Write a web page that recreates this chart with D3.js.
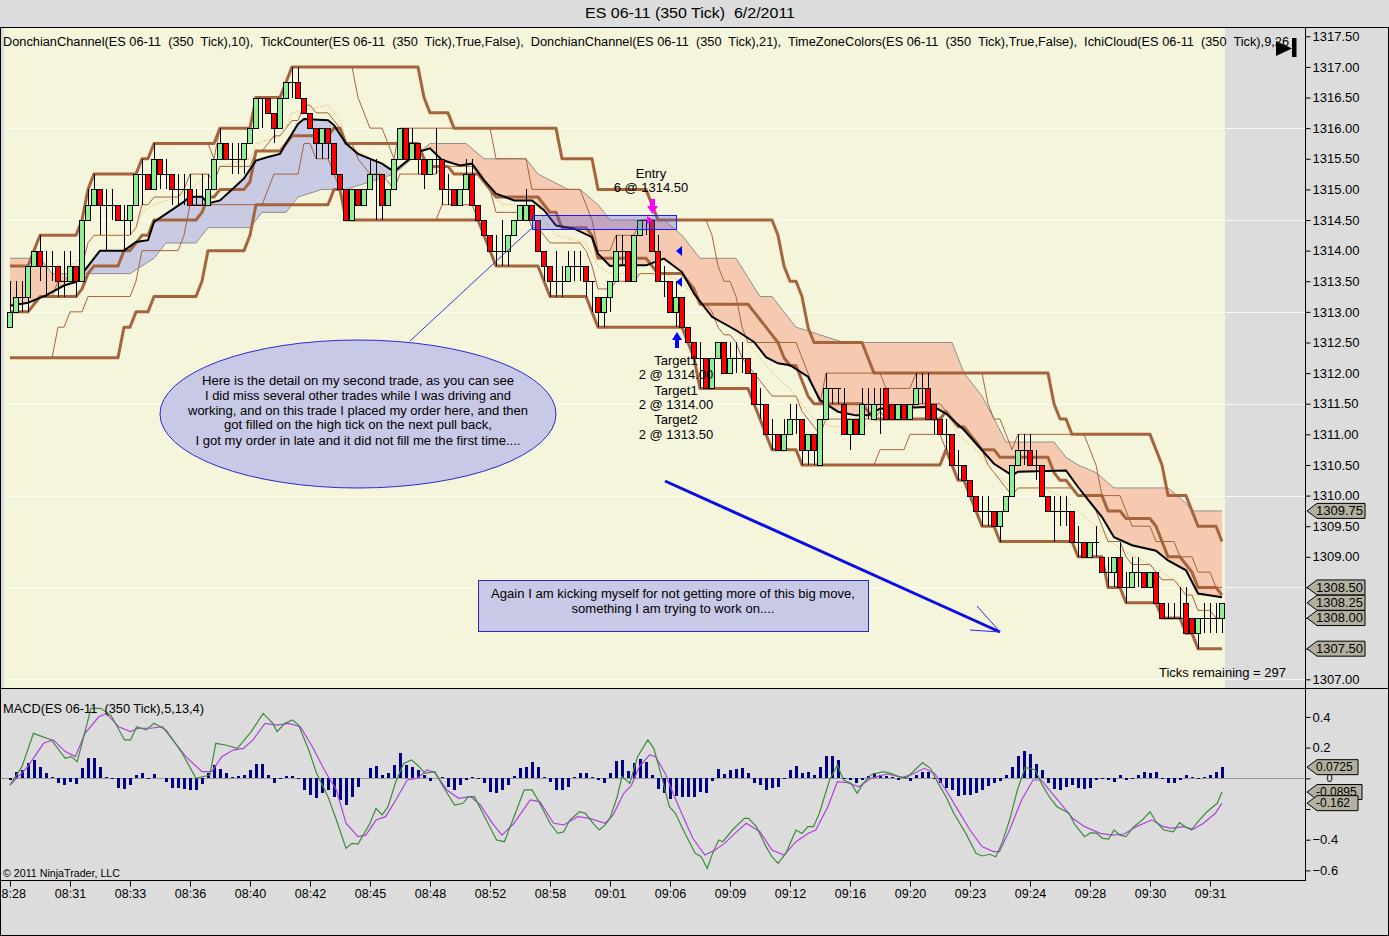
<!DOCTYPE html>
<html><head><meta charset="utf-8"><title>ES 06-11 (350 Tick) 6/2/2011</title>
<script src="https://cdn.jsdelivr.net/npm/d3@7/dist/d3.min.js"></script>
<style>
html,body{margin:0;padding:0;background:#dcdcdc;}
svg{display:block;font-family:"Liberation Sans",Arial,sans-serif;}
text{white-space:pre;}
</style></head><body>
<svg id="chart" width="1389" height="936"></svg>
<script>
// ---------------- DATA ----------------
const opens = [
1312.75,1313,1313.25,1313.25,1313.75,1314,1313.75,1313.75,1313.75,1313.5,
1313.5,1313.75,1313.5,1314.5,1314.75,1315,1314.75,1314.75,1314.75,1314.5,
1314.5,1314.75,1315.25,1315.25,1315,1315.5,1315.25,1315.25,1315,1315,
1315,1314.75,1314.75,1314.75,1315,1315.5,1315.75,1315.5,1315.5,1315.5,
1315.75,1316,1316.5,1316.5,1316.25,1316,1316.5,1316.75,1316.75,1316.5,
1316.25,1316,1315.75,1316,1315.75,1315.25,1315,1314.5,1315,1314.75,
1315,1315.25,1315.25,1314.75,1315,1315.5,1316,1315.5,1315.75,1315.5,
1315.25,1315.5,1315.5,1315,1315,1314.75,1315,1315.25,1314.75,1314.5,
1314.25,1314,1314,1314,1314.25,1314.5,1314.5,1314.75,1314.5,1314,
1313.75,1313.5,1313.5,1313.5,1313.75,1313.75,1313.75,1313.5,1313.25,1313,
1313.25,1313.5,1314,1314,1313.5,1314.25,1314.5,1314.5,1314,1313.5,
1313.5,1313,1313.25,1312.75,1312.5,1312.25,1312.25,1311.75,1312.25,1312.5,
1312,1312.25,1312.25,1312.25,1312,1311.5,1311.5,1311,1311,1310.75,
1311,1311.25,1311.25,1310.75,1311,1310.5,1311.25,1311.75,1311.75,1311.5,
1311,1311.25,1311,1311.5,1311.25,1311.5,1311.75,1311.5,1311.25,1311.5,
1311.25,1311.5,1311.75,1311.75,1311.5,1311.25,1311,1311,1310.5,1310.5,
1310.25,1310,1309.75,1309.75,1309.75,1309.5,1309.75,1310,1310.5,1310.75,
1310.75,1310.5,1310.5,1310,1309.75,1309.75,1309.75,1309.75,1309.25,1309.25,
1309,1309.25,1309,1308.75,1308.75,1309,1308.5,1308.5,1308.75,1308.75,
1308.5,1308.75,1308.25,1308,1308,1308,1308.25,1308,1307.75,1308,
1308,1308,1308];
const closes = [
1313,1313.25,1313.25,1313.75,1314,1313.75,1313.75,1313.75,1313.5,1313.5,
1313.75,1313.5,1314.5,1314.75,1315,1314.75,1314.75,1314.75,1314.5,1314.5,
1314.75,1315.25,1315.25,1315,1315.5,1315.25,1315.25,1315,1315,1315,
1314.75,1314.75,1314.75,1315,1315.5,1315.75,1315.5,1315.5,1315.5,1315.75,
1316,1316.5,1316.5,1316.25,1316,1316.5,1316.75,1316.75,1316.5,1316.25,
1316,1315.75,1316,1315.75,1315.25,1315,1314.5,1315,1314.75,1315,
1315.25,1315.25,1314.75,1315,1315.5,1316,1315.5,1315.75,1315.5,1315.25,
1315.5,1315.5,1315,1315,1314.75,1315,1315.25,1314.75,1314.5,1314.25,
1314,1314,1314,1314.25,1314.5,1314.75,1314.75,1314.5,1314,1313.75,
1313.5,1313.5,1313.5,1313.75,1313.75,1313.75,1313.5,1313.5,1313,1313.25,
1313.5,1314,1314,1313.5,1314.25,1314.5,1314.5,1314,1313.5,1313.5,
1313,1313.25,1312.75,1312.5,1312.25,1312.25,1311.75,1312.25,1312.5,1312,
1312.25,1312.25,1312.25,1312,1311.5,1311.5,1311,1311,1310.75,1311,
1311.25,1311.25,1310.75,1311,1310.75,1311.25,1311.75,1311.75,1311.75,1311,
1311.25,1311,1311.5,1311.5,1311.5,1311.5,1311.25,1311.25,1311.5,1311.25,
1311.5,1311.75,1311.75,1311.25,1311.25,1311,1311,1310.5,1310.5,1310.25,
1310,1309.75,1309.75,1309.75,1309.5,1309.75,1310,1310.5,1310.75,1310.75,
1310.5,1310.5,1310,1309.75,1309.75,1309.75,1309.75,1309.25,1309.25,1309,
1309.25,1309.25,1308.75,1308.75,1309,1308.5,1308.5,1308.75,1308.75,1308.5,
1308.75,1308.25,1308,1308,1308,1308,1307.75,1307.75,1308,1308,
1308,1308,1308.25];
const highs = [
1313.5,1313.5,1313.5,1313.75,1314,1314.25,1314,1314,1313.75,1314,
1314,1313.75,1314.5,1315,1315.25,1315,1315,1315,1314.75,1314.75,
1314.75,1315.25,1315.5,1315.25,1315.75,1315.5,1315.5,1315.25,1315.25,1315.25,
1315.25,1315,1315.25,1315.25,1315.5,1316,1315.75,1315.75,1315.75,1315.75,
1316,1316.5,1316.5,1316.5,1316.25,1316.5,1316.75,1317,1317,1316.5,
1316.25,1316,1316,1316,1315.75,1315.25,1315,1315,1315,1315,
1315.5,1315.5,1315.25,1315,1315.5,1316,1316,1316,1315.75,1315.5,
1315.5,1316,1315.5,1315.25,1315,1315,1315.5,1315.5,1314.75,1314.5,
1314.25,1314.25,1314.5,1314.25,1314.5,1314.75,1315,1314.75,1314.5,1314,
1313.75,1314,1313.75,1314,1314,1314,1313.75,1313.5,1313.25,1313.25,
1313.5,1314.25,1314.25,1314,1314.25,1314.5,1314.5,1314.5,1314.25,1313.75,
1313.5,1313.5,1313.25,1312.75,1312.5,1312.5,1312.25,1312.25,1312.5,1312.5,
1312.5,1312.5,1312.5,1312.25,1312,1311.75,1311.5,1311.25,1311,1311.25,
1311.5,1311.5,1311.25,1311,1311,1311.25,1312,1311.75,1311.75,1311.75,
1311.25,1311.25,1311.75,1311.75,1311.75,1311.75,1311.75,1311.5,1311.5,1311.5,
1311.5,1312,1312,1312,1311.5,1311.25,1311.25,1311,1310.75,1310.5,
1310.25,1310,1310,1310,1309.75,1309.75,1310,1310.5,1311,1311,
1311,1310.75,1310.5,1310,1310,1310,1310,1309.75,1309.5,1309.25,
1309.25,1309.5,1309,1309,1309,1309.25,1308.75,1309,1309,1308.75,
1308.75,1308.75,1308.25,1308.25,1308.25,1308.5,1308.5,1308,1308,1308.25,
1308.25,1308.25,1308.25];
const lows = [
1312.75,1313,1313,1313,1313.75,1313.5,1313.25,1313.5,1313.25,1313.25,
1313.5,1313.25,1313.5,1314.5,1314.75,1314.25,1314,1314.5,1314.5,1314,
1314.25,1314.75,1314.75,1315,1315,1315,1315,1314.75,1314.75,1314.75,
1314.75,1314.75,1314.75,1314.75,1315,1315.5,1315.5,1315.25,1315.25,1315.25,
1315.75,1316,1316,1316.25,1315.75,1316,1316.5,1316.5,1316.5,1316.25,
1316,1315.5,1315.5,1315.5,1315.25,1315,1314.5,1314.5,1314.75,1314.75,
1315,1314.5,1314.5,1314.75,1315,1315.5,1315.5,1315.5,1315.25,1315,
1315.25,1315.25,1314.75,1314.75,1314.75,1314.75,1315,1314.75,1314.5,1314.25,
1314,1313.75,1313.75,1313.75,1314.25,1314.5,1314.5,1314.5,1314,1313.5,
1313.25,1313.25,1313.25,1313.5,1313.5,1313.5,1313.25,1313,1312.75,1312.75,
1313,1313.5,1313.75,1313.5,1313.5,1314.25,1314.25,1314,1313.5,1313.25,
1313,1312.75,1312.75,1312.5,1312.25,1311.75,1311.75,1311.75,1312.25,1312,
1312,1312,1312,1312,1311.5,1311.25,1311,1310.75,1310.75,1310.75,
1311,1311,1310.5,1310.5,1310.5,1310.5,1311.25,1311.5,1311.5,1311,
1310.75,1311,1311,1311.25,1311.25,1311,1311.25,1311.25,1311.25,1311.25,
1311.25,1311.5,1311.5,1311.25,1311,1311,1310.75,1310.5,1310.25,1310.25,
1310,1309.75,1309.5,1309.5,1309.5,1309.25,1309.75,1310,1310.5,1310.5,
1310.5,1310.25,1310,1309.75,1309.25,1309.5,1309.5,1309.25,1309,1309,
1309,1309,1308.75,1308.5,1308.5,1308.5,1308.25,1308.5,1308.5,1308.5,
1308.5,1308.25,1308,1308,1308,1308,1307.75,1307.75,1307.5,1307.75,
1307.75,1307.75,1307.75];

// Donchian channels: [barIndex, value from that bar on]
const don21Hi = [[0,1313.75],[4,1314],[5,1314.25],[12,1314.5],[13,1315],[14,1315.25],[22,1315.5],[24,1315.75],[35,1316],[41,1316.5],[46,1316.75],[47,1317],[69,1316.5],[70,1316.25],[74,1316],[92,1315.5],[98,1315],[107,1314.75],[108,1314.5],[128,1314.25],[129,1313.75],[130,1313.5],[132,1313.25],[133,1312.75],[134,1312.5],[143,1312.25],[144,1312],[174,1311.5],[175,1311.25],[177,1311],[191,1310.75],[192,1310.5],[193,1310],[197,1309.75],[198,1309.5],[202,1309.25]];
const don21Lo = [[0,1312.25],[19,1312.75],[21,1313],[24,1313.25],[32,1313.5],[33,1314],[40,1314.25],[41,1314.75],[54,1315],[56,1314.5],[79,1314.25],[80,1314],[81,1313.75],[89,1313.5],[90,1313.25],[97,1313],[98,1312.75],[113,1312.5],[114,1312.25],[115,1311.75],[124,1311.5],[125,1311.25],[126,1311],[127,1310.75],[132,1310.5],[156,1310.75],[157,1310.5],[158,1310.25],[160,1310],[161,1309.75],[162,1309.5],[165,1309.25],[178,1309],[183,1308.5],[186,1308.25],[192,1308],[196,1307.75],[198,1307.5]];
const don10Hi = [[0,1313.75],[4,1314],[5,1314.25],[12,1314.5],[13,1315],[14,1315.25],[22,1315.5],[24,1315.75],[34,1315.5],[35,1316],[41,1316.5],[46,1316.75],[47,1317],[58,1316.5],[59,1316.25],[60,1316],[63,1315.75],[64,1315.5],[65,1316],[81,1315.5],[87,1315],[96,1314.75],[97,1314.5],[98,1314],[101,1314.25],[105,1314.5],[117,1314.25],[118,1313.75],[119,1313.5],[121,1313.25],[122,1312.75],[123,1312.5],[132,1312.25],[133,1312],[134,1311.75],[135,1311.5],[136,1312],[146,1311.75],[151,1312],[163,1311.5],[164,1311.25],[166,1311],[167,1310.75],[168,1311],[180,1310.75],[181,1310.5],[182,1310],[186,1309.75],[187,1309.5],[191,1309.25],[195,1309],[198,1308.75],[201,1308.5]];
const don10Lo = [[0,1312.25],[8,1312.75],[10,1313],[13,1313.25],[21,1313.5],[22,1314],[29,1314.25],[30,1314.75],[43,1315],[44,1315.25],[49,1315.75],[51,1315.5],[54,1315.25],[55,1315],[56,1314.5],[72,1314.75],[78,1314.5],[79,1314.25],[80,1314],[81,1313.75],[89,1313.5],[90,1313.25],[97,1313],[98,1312.75],[113,1312.5],[114,1312.25],[115,1311.75],[124,1311.5],[125,1311.25],[126,1311],[127,1310.75],[132,1310.5],[145,1310.75],[150,1311],[156,1310.75],[157,1310.5],[158,1310.25],[160,1310],[161,1309.75],[162,1309.5],[165,1309.25],[178,1309],[183,1308.5],[186,1308.25],[192,1308],[196,1307.75],[198,1307.5]];

// Ichimoku cloud edges (key points): black line and grey line
const spanA = [[0,1313.1],[3,1313.15],[6,1313.27],[9,1313.43],[11,1313.49],[12,1313.62],[15,1314],[19,1314],[21,1314.14],[23,1314.17],[24,1314.47],[26,1314.6],[29,1314.8],[30,1314.88],[32,1314.88],[33,1314.77],[35,1314.82],[37,1315],[39,1315.18],[41,1315.47],[43,1315.53],[45,1315.58],[46,1315.75],[48,1316.07],[49,1316.15],[53,1316.13],[54,1316.05],[56,1315.75],[58,1315.58],[62,1315.42],[64,1315.29],[68,1315.61],[70,1315.67],[72,1315.48],[75,1315.39],[77,1315.42],[79,1315.15],[81,1314.93],[84,1314.82],[87,1314.82],[89,1314.66],[91,1314.41],[94,1314.36],[97,1314.22],[98,1313.95],[100,1313.75],[102,1313.76],[106,1313.76],[109,1313.87],[112,1313.65],[114,1313.3],[117,1312.92],[121,1312.7],[124,1312.51],[126,1312.26],[128,1312.16],[130,1312.13],[133,1311.94],[135,1311.56],[138,1311.37],[141,1311.31],[143,1311.31],[145,1311.42],[154,1311.45],[156,1311.34],[159,1311.07],[162,1310.74],[164,1310.52],[167,1310.33],[168,1310.39],[176,1310.41],[178,1310.14],[182,1309.65],[184,1309.32],[187,1309.19],[191,1309.1],[193,1308.94],[196,1308.78],[198,1308.4],[202,1308.34]];
const spanB = [[0,1313.875],[5,1313.875],[7,1313.625],[20,1313.625],[22,1313.75],[24,1313.875],[26,1314.125],[31,1314.125],[33,1314.375],[40,1314.375],[42,1314.625],[46,1314.625],[48,1314.875],[52,1315],[56,1315],[60,1315.125],[64,1315.25],[67,1315.5],[70,1315.75],[76,1315.75],[79,1315.5],[86,1315.5],[88,1315.25],[93,1315],[95,1315],[98,1314.75],[100,1314.5],[109,1314.5],[112,1314.25],[115,1313.875],[121,1313.875],[125,1313.25],[127,1313.25],[131,1312.75],[135,1312.625],[139,1312.5],[157,1312.5],[159,1312],[162,1311.625],[166,1310.875],[174,1310.875],[176,1310.625],[178,1310.5],[181,1310.375],[184,1310.125],[193,1310.125],[196,1309.875],[197,1309.75],[202,1309.75]];
const tenkan = [[8,1313.625],[12,1313.875],[13,1314.125],[14,1314.25],[20,1314.25],[21,1314.375],[22,1314.625],[24,1314.75],[28,1314.875],[30,1315],[33,1315.25],[35,1315.375],[40,1315.5],[41,1315.75],[45,1315.875],[46,1316],[47,1316.25],[53,1316.375],[55,1316.125],[56,1315.75],[58,1315.625],[60,1315.5],[63,1315.25],[68,1315.25],[72,1315.375],[78,1315.375],[80,1315],[82,1314.75],[88,1314.75],[89,1314.5],[91,1314.25],[96,1314.125],[98,1313.75],[100,1313.625],[109,1313.625],[112,1313.5],[114,1313.25],[116,1313],[120,1312.75],[124,1312.375],[127,1312],[130,1311.75],[134,1311.25],[137,1311.125],[142,1311.125],[146,1311.375],[152,1311.5],[156,1311.375],[158,1311],[161,1310.75],[164,1310.375],[167,1310.125],[172,1310.125],[175,1310],[178,1309.75],[181,1309.5],[185,1309.125],[190,1308.875],[194,1308.625],[197,1308.375],[202,1308.375]];

// MACD(5,13,4)
const macdLine = [[0,-0.044],[2,0.076],[3.9,0.293],[6.9,0.25],[9.2,0.13],[10.2,0.141],[11.2,0.108],[13.5,0.456],[15.1,0.456],[16.8,0.412],[19.1,0.25],[20.1,0.25],[21.1,0.336],[22.7,0.315],[24,0.358],[26,0.315],[28.7,0.163],[31,0],[33.3,0.021],[34.3,0.228],[35.9,0.217],[37.9,0.195],[40.2,0.304],[42.2,0.423],[43.8,0.358],[44.5,0.304],[45.8,0.358],[47.1,0.38],[48.1,0.347],[49.8,0.184],[51.1,0.032],[53,-0.12],[54.4,-0.272],[56,-0.456],[57,-0.424],[58,-0.428],[60,-0.293],[61,-0.196],[62,-0.239],[63,-0.185],[64.3,-0.022],[65.6,0.097],[66.9,0.119],[67.9,0.087],[69.2,0.032],[70.8,0.043],[72.2,-0.055],[74.1,-0.174],[75.5,-0.163],[76.4,-0.12],[77.4,-0.12],[79.1,-0.25],[81.1,-0.402],[82.4,-0.413],[84,-0.25],[85.7,-0.076],[87,-0.076],[88,-0.141],[90,-0.293],[91.3,-0.358],[92.3,-0.348],[93.3,-0.272],[94.9,-0.218],[95.9,-0.228],[97.2,-0.293],[98.2,-0.337],[99.2,-0.304],[100,-0.26],[101.2,-0.12],[102,0.011],[103.3,-0.033],[104.6,0.141],[106.3,0.25],[107.3,0.195],[108.6,0.011],[109.9,-0.185],[110.9,-0.228],[112.5,-0.359],[114.2,-0.489],[115.2,-0.511],[116.2,-0.587],[117.1,-0.489],[118.1,-0.402],[118.8,-0.413],[120.4,-0.337],[122.4,-0.261],[123.1,-0.261],[124.4,-0.315],[126,-0.445],[127,-0.511],[128,-0.554],[129.3,-0.489],[131,-0.337],[132,-0.359],[133,-0.315],[133.9,-0.315],[134.9,-0.228],[136.6,-0.011],[137.9,0.087],[138.9,-0.011],[140.2,-0.033],[141.2,-0.098],[142.2,-0.033],[143.5,0.022],[145.5,0.043],[146.8,0.032],[148.1,0.011],[149.4,0],[150.8,0.054],[152.1,0.102],[153.4,0.065],[154.7,-0.033],[156,-0.12],[157.3,-0.228],[159.3,-0.359],[161,-0.489],[162,-0.506],[163.3,-0.495],[164.3,-0.511],[165.3,-0.424],[166.6,-0.272],[167.9,-0.076],[169.2,0.071],[170.9,0.054],[171.9,-0.033],[173.2,-0.12],[174.5,-0.185],[176.5,-0.228],[177.5,-0.304],[179.1,-0.38],[180.1,-0.354],[181.1,-0.359],[182.1,-0.391],[183.1,-0.396],[184,-0.337],[185,-0.37],[186,-0.38],[187.3,-0.315],[188.7,-0.272],[190,-0.218],[191,-0.283],[192.3,-0.337],[193.9,-0.348],[194.9,-0.289],[195.9,-0.315],[196.9,-0.337],[198.2,-0.272],[199.5,-0.218],[201.2,-0.163],[202,-0.0895]];
const macdSignal = [[0,-0.044],[2.95,0.076],[5.6,0.228],[7.2,0.25],[9.2,0.174],[10.9,0.141],[12.5,0.293],[14.8,0.401],[16.1,0.423],[18.1,0.336],[20.1,0.304],[21.4,0.326],[23.4,0.326],[25.4,0.336],[26.7,0.271],[29.3,0.141],[32,0.043],[33.6,0.043],[35.3,0.141],[37.2,0.184],[38.9,0.195],[40.5,0.25],[42.5,0.358],[44.5,0.347],[46.5,0.358],[48.4,0.336],[50.4,0.206],[52.4,0.054],[54.4,-0.076],[56,-0.293],[58,-0.38],[59.3,-0.37],[61,-0.272],[62.6,-0.25],[64.3,-0.141],[66.2,-0.011],[67.9,0],[69.5,0.054],[70.8,0.037],[72.8,-0.076],[74.8,-0.13],[76.8,-0.12],[78.4,-0.174],[80.4,-0.293],[82,-0.37],[84,-0.293],[86.7,-0.141],[88.3,-0.152],[90.6,-0.293],[92.3,-0.304],[94.6,-0.25],[96.6,-0.261],[99.2,-0.293],[100.5,-0.24],[102.3,-0.098],[103.6,-0.044],[104.9,0.076],[106.6,0.152],[107.6,0.141],[109.2,0.032],[110.5,-0.098],[112.2,-0.25],[113.8,-0.391],[115.8,-0.5],[117.5,-0.467],[119.1,-0.424],[120.8,-0.359],[122.7,-0.293],[125,-0.348],[127,-0.467],[129,-0.5],[131,-0.413],[133,-0.359],[134.3,-0.337],[136.3,-0.185],[137.9,-0.022],[139.6,-0.029],[141.5,-0.055],[143.5,0],[146.1,0.028],[148.8,0.007],[150.1,0.022],[152.4,0.065],[154.1,0.032],[156,-0.076],[158,-0.207],[160,-0.337],[162,-0.445],[163.9,-0.478],[164.9,-0.478],[166.6,-0.337],[168.6,-0.141],[170.5,-0.011],[171.9,-0.011],[173.2,-0.076],[175.1,-0.163],[177.1,-0.261],[179.1,-0.315],[181.7,-0.359],[183.7,-0.37],[185.7,-0.363],[187.7,-0.315],[190.3,-0.272],[192.3,-0.315],[193.6,-0.326],[195.6,-0.315],[197.2,-0.332],[198.9,-0.293],[200.9,-0.228],[202,-0.162]];
const macdHist = [
-0.011,0.043,0.054,0.098,0.119,0.076,0.037,0.007,-0.033,-0.043,
-0.022,-0.037,0.065,0.13,0.13,0.076,0.011,-0.007,-0.065,-0.069,
-0.043,0.022,0.033,-0.007,0.028,0.003,-0.022,-0.065,-0.065,-0.072,
-0.076,-0.076,-0.037,0.033,0.087,0.059,0.033,0.007,0.015,0.022,
0.054,0.093,0.093,0.022,-0.033,-0.004,0.015,0.015,-0.007,-0.076,
-0.109,-0.13,-0.098,-0.076,-0.119,-0.141,-0.174,-0.119,-0.054,0.004,
0.065,0.08,0.022,0.033,0.087,0.163,0.087,0.076,0.054,0.022,
-0.015,0.004,0.007,-0.054,-0.076,-0.043,-0.011,0.007,-0.003,-0.033,
-0.087,-0.098,-0.076,-0.043,0.015,0.065,0.076,0.109,0.072,0.007,
-0.022,-0.076,-0.076,-0.054,0.007,0.037,0.033,0.007,-0.011,-0.033,
0.037,0.115,0.119,0.05,0.102,0.124,0.109,0.022,-0.072,-0.098,
-0.137,-0.115,-0.119,-0.119,-0.119,-0.087,-0.098,-0.015,0.059,0.028,
0.054,0.059,0.065,0.037,-0.028,-0.043,-0.076,-0.065,-0.059,-0.007,
0.054,0.08,0.037,0.043,0.022,0.072,0.145,0.145,0.119,-0.003,
-0.011,-0.033,-0.011,0.015,0.033,0.022,0.015,0.007,-0.011,0.007,
-0.015,0.022,0.043,0.043,-0.004,-0.033,-0.065,-0.076,-0.115,-0.109,
-0.109,-0.098,-0.076,-0.05,-0.028,-0.015,0.022,0.072,0.145,0.18,
0.159,0.093,0.054,-0.033,-0.072,-0.076,-0.054,-0.043,-0.065,-0.072,
-0.065,-0.011,-0.007,-0.011,-0.022,0.022,-0.011,-0.007,0.022,0.043,
0.033,0.043,-0.004,-0.033,-0.033,-0.011,0.022,0.007,-0.007,0.007,
0.022,0.043,0.0725];

const timeLabels = ["08:28","08:31","08:33","08:36","08:40","08:42","08:45","08:48","08:52","08:58","09:01","09:06","09:09","09:12","09:16","09:20","09:23","09:24","09:28","09:30","09:31"];
const timeTickBars = [0,10,20,30,40,50,60,70,80,90,100,110,120,130,140,150,160,170,180,190,200];
const priceTicks = [1307,1307.5,1308,1308.5,1309,1309.5,1310,1310.5,1311,1311.5,1312,1312.5,1313,1313.5,1314,1314.5,1315,1315.5,1316,1316.5,1317,1317.5];
const gridLevels = [1316,1314.5,1313,1311.5,1310,1308.5,1307];
const macdTicks = [0.4,0.2,0,-0.2,-0.4,-0.6];
const priceTags = [1309.75,1308.5,1308.25,1308,1307.5];
const macdTags = [[0.0725,"0.0725"],[-0.0895,"-0.0895"],[-0.162,"-0.162"]];

// ---------------- DRAWING ----------------
const svg = d3.select('#chart');
const x = d3.scaleLinear().domain([0,202]).range([10,1222]);
const y = d3.scaleLinear().domain([1307,1317.5]).range([679.3,36.3]);
const ym = d3.scaleLinear().domain([-0.6,0.4]).range([870.4,716.9]);
const FONT = '"Liberation Sans",Arial,sans-serif';

svg.append('rect').attr('width',1389).attr('height',936).attr('fill','#dcdcdc');
svg.append('rect').attr('x',4).attr('y',28).attr('width',1221).attr('height',660).attr('fill','#f5f5dc');

const defs = svg.append('defs');
defs.append('clipPath').attr('id','pclip').append('rect').attr('x',4).attr('y',28).attr('width',1301).attr('height',660);

// grid
svg.append('g').selectAll('line').data(gridLevels).join('line')
  .attr('x1',4).attr('x2',1305).attr('y1',d=>Math.round(y(d))+0.5).attr('y2',d=>Math.round(y(d))+0.5)
  .attr('stroke','#ffffff').attr('stroke-opacity',0.75);

const P = d => x(d[0]).toFixed(1)+','+y(d[1]).toFixed(1);
const aPts = spanA.map(P), bPts = spanB.map(P);
const cloudPoly = 'M'+aPts.join('L')+'L'+bPts.slice().reverse().join('L')+'Z';
defs.append('clipPath').attr('id','aboveB').append('path').attr('d','M'+bPts.join('L')+'L'+x(202)+',28L'+x(0)+',28Z');
defs.append('clipPath').attr('id','belowB').append('path').attr('d','M'+bPts.join('L')+'L'+x(202)+',688L'+x(0)+',688Z');
const pg = svg.append('g').attr('clip-path','url(#pclip)');
pg.append('path').attr('d',cloudPoly).attr('fill','#c9cae3').attr('clip-path','url(#aboveB)');
pg.append('path').attr('d',cloudPoly).attr('fill','#f6c9b1').attr('clip-path','url(#belowB)');

const line = d3.line().x(d=>x(d[0])).y(d=>y(d[1]));
function steps(arr){
  const pts=[];
  arr.forEach((d,k)=>{ if(k>0 && d[0]-1>arr[k-1][0]) pts.push([d[0]-1,arr[k-1][1]]); pts.push(d); });
  const last=arr[arr.length-1]; if(last[0]<202) pts.push([202,last[1]]);
  return pts;
}
function valAt(arr,i){ let v=arr[0][1]; for(const d of arr){ if(d[0]<=i) v=d[1]; } return v; }
const bars = d3.range(opens.length);
const mid10 = bars.map(i=>[i,(valAt(don10Hi,i)+valAt(don10Lo,i))/2]);
const mid21 = bars.map(i=>[i,(valAt(don21Hi,i)+valAt(don21Lo,i))/2]);

const BROWN = '#a5643c';
pg.append('path').attr('d',line(spanB)).attr('fill','none').attr('stroke','#8f8f8f').attr('stroke-width',1);
[steps(don10Hi),steps(don10Lo),mid10].forEach(p=>pg.append('path').attr('d',line(p)).attr('fill','none').attr('stroke',BROWN).attr('stroke-width',1));
pg.append('path').attr('d',line(tenkan)).attr('fill','none').attr('stroke','#f0a020').attr('stroke-width',1).attr('stroke-dasharray','1,2');
[steps(don21Hi),steps(don21Lo),mid21].forEach(p=>pg.append('path').attr('d',line(p)).attr('fill','none').attr('stroke',BROWN).attr('stroke-width',3).attr('stroke-linejoin','round'));
pg.append('path').attr('d',line(spanA)).attr('fill','none').attr('stroke','#000').attr('stroke-width',2);

// candles
const cg = pg.append('g').attr('shape-rendering','crispEdges');
const cand = cg.selectAll('g').data(bars).join('g');
cand.append('line').attr('x1',i=>Math.round(x(i))+0.5).attr('x2',i=>Math.round(x(i))+0.5)
  .attr('y1',i=>y(highs[i])).attr('y2',i=>y(lows[i])).attr('stroke','#000');
cand.filter(i=>opens[i]!==closes[i]).append('rect')
  .attr('x',i=>Math.round(x(i))-2.5).attr('width',5)
  .attr('y',i=>Math.round(y(Math.max(opens[i],closes[i])))+0.5)
  .attr('height',i=>Math.round(y(Math.min(opens[i],closes[i])))-Math.round(y(Math.max(opens[i],closes[i]))))
  .attr('fill',i=>closes[i]>opens[i]?'#90ee90':'#ff0000').attr('stroke','#000');
cand.filter(i=>opens[i]===closes[i]).append('line')
  .attr('x1',i=>Math.round(x(i))-3).attr('x2',i=>Math.round(x(i))+3)
  .attr('y1',i=>Math.round(y(opens[i]))+0.5).attr('y2',i=>Math.round(y(opens[i]))+0.5).attr('stroke','#000');

// ----- annotations -----
const an = svg.append('g');
an.append('rect').attr('x',532.5).attr('y',215.5).attr('width',144).attr('height',14)
  .attr('fill','#5a5ae6').attr('fill-opacity',0.33).attr('stroke','#1a1aff');
an.append('line').attr('x1',410).attr('y1',341).attr('x2',533).attr('y2',227).attr('stroke','#3a3ad0');
an.append('ellipse').attr('cx',358).attr('cy',414).attr('rx',198).attr('ry',74)
  .attr('fill','#c8c9e6').attr('stroke','#2a2ad0');
const ellLines = [
 ["Here is the detail on my second trade, as you can see",385,312],
 ["I did miss several other trades while I was driving and",400,306],
 ["working, and on this trade I placed my order here, and then",415,340],
 ["got filled on the high tick on the next pull back,",429,268],
 ["I got my order in late and it did not fill me the first time....",445,325]];
ellLines.forEach(([t,yy,w])=>an.append('text').attr('x',358).attr('y',yy).attr('text-anchor','middle')
  .attr('font-size',12.5).attr('textLength',w).attr('lengthAdjust','spacingAndGlyphs').text(t));
an.append('rect').attr('x',478.5).attr('y',580.5).attr('width',390).attr('height',51)
  .attr('fill','#c8c9e6').attr('stroke','#2a2ac0');
an.append('text').attr('x',673).attr('y',598).attr('text-anchor','middle').attr('font-size',12.5)
  .attr('textLength',364).attr('lengthAdjust','spacingAndGlyphs').text('Again I am kicking myself for not getting more of this big move,');
an.append('text').attr('x',673).attr('y',613).attr('text-anchor','middle').attr('font-size',12.5)
  .attr('textLength',203).attr('lengthAdjust','spacingAndGlyphs').text('something I am trying to work on....');
// big arrow
an.append('line').attr('x1',665).attr('y1',481).attr('x2',1000).attr('y2',632).attr('stroke','#0a0ae6').attr('stroke-width',3);
an.append('path').attr('d','M977,606L1000,632L970,630').attr('fill','none').attr('stroke','#2a2ae6').attr('stroke-width',1);
// entry / targets
[["Entry",178],["6 @ 1314.50",192]].forEach(([t,yy])=>an.append('text').attr('x',651).attr('y',yy).attr('text-anchor','middle').attr('font-size',13).text(t));
[["Target1",365],["2 @ 1314.00",379],["Target1",395],["2 @ 1314.00",409],["Target2",424],["2 @ 1313.50",439]]
  .forEach(([t,yy])=>an.append('text').attr('x',676).attr('y',yy).attr('text-anchor','middle').attr('font-size',13).text(t));
an.append('path').attr('d','M650,199H655V206H658L652.5,214L647,206H650Z').attr('fill','#ff00ff');
an.append('path').attr('d','M647,216L653,220L647,224Z').attr('fill','#ff00ff');
an.append('path').attr('d','M682,246L682,256L676,251Z').attr('fill','#0000ff');
an.append('path').attr('d','M682,277L682,287L676,282Z').attr('fill','#0000ff');
an.append('path').attr('d','M677,332L682,340H679V348H675V340H672Z').attr('fill','#0000ff');
an.append('text').attr('x',1159).attr('y',677).attr('font-size',12.5).attr('textLength',127)
  .attr('lengthAdjust','spacingAndGlyphs').text('Ticks remaining = 297');

// ----- MACD panel -----
const mg = svg.append('g');
mg.append('line').attr('x1',0).attr('x2',1305).attr('y1',Math.round(ym(0))+0.5).attr('y2',Math.round(ym(0))+0.5).attr('stroke','#9a9a9a');
mg.append('g').attr('shape-rendering','crispEdges').selectAll('rect').data(bars).join('rect')
  .attr('x',i=>Math.round(x(i))-1).attr('width',3)
  .attr('y',i=>Math.min(ym(0),ym(macdHist[i]))).attr('height',i=>Math.abs(ym(macdHist[i])-ym(0)))
  .attr('fill','#000080');
const mline = d3.line().x(d=>x(d[0])).y(d=>ym(d[1]));
mg.append('path').attr('d',mline(macdSignal)).attr('fill','none').attr('stroke','#b040e0').attr('stroke-width',1.2);
mg.append('path').attr('d',mline(macdLine)).attr('fill','none').attr('stroke','#3c8c3c').attr('stroke-width',1.2);
svg.append('text').attr('x',3).attr('y',713).attr('font-size',12.5).attr('textLength',201)
  .attr('lengthAdjust','spacingAndGlyphs').text('MACD(ES 06-11  (350 Tick),5,13,4)');
svg.append('text').attr('x',3).attr('y',877).attr('font-size',10.5).attr('textLength',117)
  .attr('lengthAdjust','spacingAndGlyphs').text('\u00A9 2011 NinjaTrader, LLC');

// ----- axes -----
// axis labels that sit under a value tag are hidden by the tag in the reference
const coveredPrice = new Set(priceTags);
const yAxis = d3.axisRight(y).tickValues(priceTicks)
  .tickFormat(d=>coveredPrice.has(d)?'':d3.format('.2f')(d)).tickSize(5).tickPadding(2);
const ya = svg.append('g').attr('transform','translate(1305.5,0)').call(yAxis);
const mAxis = d3.axisRight(ym).tickValues(macdTicks)
  .tickFormat(d=>d===0?'0':(d===-0.2?'':d3.format('.1f')(d))).tickSize(5).tickPadding(2);
const ma = svg.append('g').attr('transform','translate(1305.5,0)').call(mAxis);
const xAxis = d3.axisBottom(x).tickValues(timeTickBars).tickFormat((d,k)=>timeLabels[k]).tickSize(6).tickPadding(3);
const xa = svg.append('g').attr('transform','translate(0,880.5)').call(xAxis);
[ya,ma,xa].forEach(a=>{ a.select('.domain').remove(); a.attr('font-family',FONT).attr('color','#000'); a.selectAll('text').attr('fill','#000'); });
ya.attr('font-size',13); ma.attr('font-size',13); xa.attr('font-size',12.5);
// first time label sits at the window's left edge: show its visible part
xa.select('.tick text').attr('text-anchor','start').attr('x',-9).text(timeLabels[0].slice(1));
ma.selectAll('.tick').filter(d=>d===0).select('text').attr('x',21).attr('font-size',11);

// ----- value tags -----
function tag(g,yy,label,w,fs){
  const t=g.append('g');
  t.append('path').attr('d',`M1307,${yy}L1317,${yy-7.5}H${1307+w}V${yy+7.5}H1317Z`).attr('fill','#b3b09f').attr('stroke','#000');
  t.append('text').attr('x',1316).attr('y',yy+4.2).attr('font-size',fs).text(label);
}
const tg = svg.append('g');
priceTags.forEach(p=>tag(tg,y(p),d3.format('.2f')(p),58,13));
macdTags.forEach(([v,l])=>tag(tg,ym(v),l,l.length>6?55:l.length>5?51:48,12));

// ----- frame, title, header -----
const fr = svg.append('g').attr('stroke','#000').attr('shape-rendering','crispEdges');
fr.append('line').attr('x1',0).attr('x2',1389).attr('y1',27.5).attr('y2',27.5);
fr.append('line').attr('x1',0).attr('x2',1389).attr('y1',688.5).attr('y2',688.5);
fr.append('line').attr('x1',0).attr('x2',1305).attr('y1',880.5).attr('y2',880.5);
fr.append('line').attr('x1',1305.5).attr('x2',1305.5).attr('y1',27).attr('y2',881);
fr.append('line').attr('x1',0).attr('x2',1389).attr('y1',935.5).attr('y2',935.5);
fr.append('line').attr('x1',0.5).attr('x2',0.5).attr('y1',27).attr('y2',936);
fr.append('line').attr('x1',1388.5).attr('x2',1388.5).attr('y1',27).attr('y2',936);

svg.append('text').attr('x',690).attr('y',18).attr('text-anchor','middle').attr('font-size',14)
  .attr('textLength',210).attr('lengthAdjust','spacingAndGlyphs').text('ES 06-11 (350 Tick)  6/2/2011');
svg.append('text').attr('x',3).attr('y',46).attr('font-size',12.5).attr('textLength',1286).attr('lengthAdjust','spacingAndGlyphs')
  .text('DonchianChannel(ES 06-11  (350  Tick),10),  TickCounter(ES 06-11  (350  Tick),True,False),  DonchianChannel(ES 06-11  (350  Tick),21),  TimeZoneColors(ES 06-11  (350  Tick),True,False),  IchiCloud(ES 06-11  (350  Tick),9,26');
svg.append('path').attr('d','M1276,41L1292,48.5L1276,56Z').attr('fill','#000');
svg.append('rect').attr('x',1292).attr('y',38).attr('width',4.5).attr('height',19).attr('fill','#000');
svg.selectAll('text').attr('font-family',FONT);
</script>
</body></html>
